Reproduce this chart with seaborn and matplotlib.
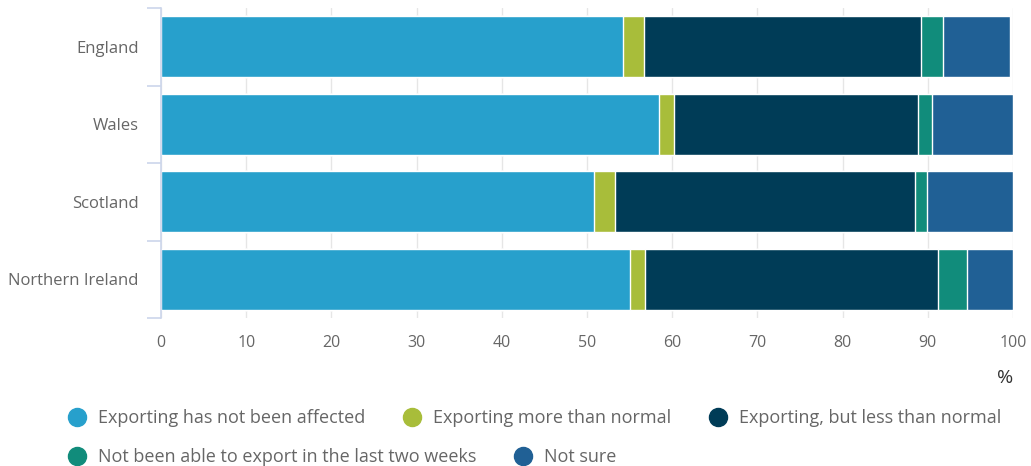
import numpy as np
import pandas as pd
import matplotlib
matplotlib.use("Agg")
import matplotlib.pyplot as plt
from matplotlib.lines import Line2D
import seaborn as sns

regions = ["England", "Wales", "Scotland", "Northern Ireland"]
not_affected = [54.2, 58.4, 50.8, 55.1]
more_than_normal = [2.5, 1.8, 2.5, 1.7]
less_than_normal = [32.5, 28.7, 35.2, 34.4]
not_able = [2.6, 1.6, 1.4, 3.4]
not_sure = [7.8, 9.5, 10.1, 5.4]

series_names = [
    "Exporting has not been affected",
    "Exporting more than normal",
    "Exporting, but less than normal",
    "Not been able to export in the last two weeks",
    "Not sure",
]
colors = ["#27A0CC", "#A8BD3A", "#003C57", "#118C7B", "#206095"]
x_ticks = [0, 10, 20, 30, 40, 50, 60, 70, 80, 90, 100]

sns.set_theme(style="white")
plt.rcParams["font.family"] = ["Open Sans", "DejaVu Sans"]

W, H = 1031, 466
fig = plt.figure(figsize=(W / 100, H / 100), dpi=100)
ax = fig.add_axes([161 / W, 1 - 318 / H, (1013 - 161) / W, (318 - 8) / H])

values = np.array([not_affected, more_than_normal, less_than_normal, not_able, not_sure])
cum = np.cumsum(values, axis=0)

# stacked bars: draw cumulative totals from the outermost segment inwards
for i in range(len(series_names) - 1, -1, -1):
    df = pd.DataFrame({"region": regions, "value": cum[i]})
    sns.barplot(data=df, x="value", y="region", orient="h", color=colors[i],
                saturation=1, width=0.79, ax=ax, zorder=2)

ax.set_xlim(0, 100)
ax.set_ylim(3.5, -0.5)
ax.set_xticks(x_ticks)
ax.set_xticklabels([str(t) for t in x_ticks])
ax.set_xlabel("")
ax.set_ylabel("")
for t in x_ticks:
    ax.axvline(t, color="#e6e6e6", lw=1, zorder=0)

for s in ["top", "right", "bottom"]:
    ax.spines[s].set_visible(False)
ax.spines["left"].set_color("#ccd6eb")
ax.spines["left"].set_linewidth(1.2)

# category boundary ticks on the y axis
ax.set_yticks(np.arange(len(regions)))
ax.set_yticklabels(regions)
ax.tick_params(axis="y", length=0, pad=16, labelsize=12, labelcolor="#666666")
ax.set_yticks(np.arange(-0.5, len(regions), 1.0), minor=True)
ax.tick_params(axis="y", which="minor", length=10, width=1.2, color="#ccd6eb", left=True)
ax.tick_params(axis="x", length=0, pad=12, labelsize=11.5, labelcolor="#666666")

fig.text(1005 / W, 1 - 378 / H, "%", fontsize=14, color="#333333", ha="center", va="center")

def handle(c):
    return Line2D([], [], marker="o", linestyle="", markersize=13,
                  markerfacecolor=c, markeredgecolor=c)

legend_kw = dict(frameon=False, fontsize=13, labelcolor="#666666",
                 handletextpad=0.65, columnspacing=2.1, borderaxespad=0,
                 borderpad=0, loc="center left", handlelength=1.0)
leg1 = fig.legend([handle(c) for c in colors[:3]], series_names[:3], ncol=3,
                  bbox_to_anchor=(68 / W, 1 - 418 / H), **legend_kw)
leg2 = fig.legend([handle(c) for c in colors[3:]], series_names[3:], ncol=2,
                  bbox_to_anchor=(68 / W, 1 - 457 / H), **legend_kw)

fig.savefig("out.png", dpi=100)
